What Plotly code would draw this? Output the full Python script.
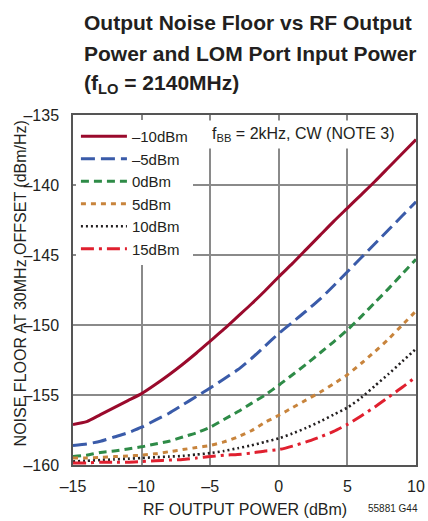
import plotly.graph_objects as go

# RF output power (dBm)
rf_out = list(range(-15, 11))

# Output noise floor at 30MHz offset (dBm/Hz), one series per LOM port input power
nf_m10 = [-157.1, -156.9, -156.4, -155.9, -155.4, -154.9, -154.25, -153.55, -152.8, -152.0,
          -151.15, -150.3, -149.4, -148.5, -147.55, -146.55, -145.6, -144.6, -143.6, -142.6,
          -141.65, -140.7, -139.75, -138.75, -137.75, -136.75]
nf_m5 = [-158.6, -158.5, -158.3, -158.0, -157.7, -157.3, -156.8, -156.3, -155.7, -155.1,
         -154.5, -153.85, -153.2, -152.4, -151.5, -150.6, -149.8, -149.0, -148.15, -147.2,
         -146.2, -145.2, -144.2, -143.2, -142.2, -141.2]
nf_0 = [-159.4, -159.3, -159.1, -159.0, -158.85, -158.7, -158.5, -158.3, -158.0, -157.7,
        -157.3, -156.75, -156.2, -155.6, -155.0, -154.3, -153.55, -152.8, -152.0, -151.2,
        -150.35, -149.4, -148.4, -147.4, -146.35, -145.3]
nf_5 = [-159.5, -159.5, -159.45, -159.4, -159.35, -159.3, -159.2, -159.05, -158.9, -158.75,
        -158.6, -158.35, -158.0, -157.55, -156.95, -156.45, -155.9, -155.35, -154.8, -154.2,
        -153.55, -152.75, -151.9, -151.0, -150.0, -149.0]
nf_10 = [-159.75, -159.7, -159.65, -159.6, -159.55, -159.5, -159.45, -159.4, -159.35, -159.25,
         -159.15, -159.0, -158.8, -158.6, -158.35, -158.1, -157.75, -157.35, -156.9, -156.4,
         -155.9, -155.2, -154.35, -153.5, -152.6, -151.7]
nf_15 = [-159.85, -159.85, -159.8, -159.8, -159.8, -159.75, -159.7, -159.65, -159.6, -159.5,
         -159.4, -159.3, -159.25, -159.15, -159.0, -158.9, -158.65, -158.35, -158.0, -157.6,
         -157.1, -156.5, -155.85, -155.15, -154.45, -153.7]

series_names = ["–10dBm", "–5dBm", "0dBm", "5dBm", "10dBm", "15dBm"]
series_values = [nf_m10, nf_m5, nf_0, nf_5, nf_10, nf_15]

x_tick_vals = [-15, -10, -5, 0, 5, 10]
x_tick_text = ["–15", "–10", "–5", "0", "5", "10"]
y_tick_vals = [-160, -155, -150, -145, -140, -135]
y_tick_text = ["–160", "–155", "–150", "–145", "–140", "–135"]

styles = [
    dict(color="#9a0a2c", width=3, dash="solid"),
    dict(color="#3a5ba9", width=3, dash="14px,6px"),
    dict(color="#2e8b47", width=3, dash="8px,5px"),
    dict(color="#c8843c", width=3, dash="5px,5px"),
    dict(color="#231f20", width=2.6, dash="2px,3px"),
    dict(color="#e0202f", width=3, dash="13px,5px,3px,5px"),
]

FONT = "Liberation Sans, Arial, Helvetica, sans-serif"
INK = "#231f20"

W, H = 428, 521
ML, MR, MT, MB = 73, 3, 115, 56
PW, PH = W - ML - MR, H - MT - MB


def px_x(px):
    return (px - ML) / PW


def px_y(py):
    return (H - MB - py) / PH


fig = go.Figure()
for name, vals, st in zip(series_names, series_values, styles):
    fig.add_trace(go.Scatter(x=rf_out, y=vals, mode="lines", name=name,
                             line=dict(shape="spline", smoothing=0.6, **st)))

grid = "#8a8a8a"
fig.update_xaxes(range=[-15, 10], tickvals=x_tick_vals, ticktext=x_tick_text,
                 showgrid=True, gridcolor=grid, gridwidth=1.5, zeroline=False,
                 showline=True, linecolor="#555555", linewidth=1.5, mirror=True,
                 ticks="", ticklabelstandoff=6, ticklabeloverflow="allow",
                 tickfont=dict(family=FONT, size=16, color=INK))
fig.update_yaxes(range=[-160, -135], tickvals=y_tick_vals, ticktext=y_tick_text,
                 showgrid=True, gridcolor=grid, gridwidth=1.5, zeroline=False,
                 showline=True, linecolor="#555555", linewidth=1.5, mirror=True,
                 ticks="", ticklabelstandoff=9, ticklabeloverflow="allow",
                 tickfont=dict(family=FONT, size=16, color=INK))

title_lines = ["Output Noise Floor vs RF Output",
               "Power and LOM Port Input Power",
               "(f<sub>LO</sub> = 2140MHz)"]
for i, line in enumerate(title_lines):
    fig.add_annotation(text=line, xref="paper", yref="paper",
                       x=px_x(82), y=px_y(23 + 30.5 * i), xanchor="left", yanchor="middle",
                       showarrow=False,
                       font=dict(family=FONT, size=21, color=INK, weight="bold"))

fig.add_annotation(text="f<sub>BB</sub> = 2kHz, CW (NOTE 3)", xref="x", yref="y",
                   x=1.8, y=-136.4, xanchor="center", yanchor="middle",
                   showarrow=False, bgcolor="white", borderpad=4,
                   font=dict(family=FONT, size=16, color=INK))

fig.add_annotation(text="NOISE FLOOR AT 30MHz OFFSET (dBm/Hz)", xref="paper", yref="paper",
                   x=px_x(19), y=px_y(283), xanchor="center", yanchor="middle",
                   textangle=-90, showarrow=False,
                   font=dict(family=FONT, size=16, color=INK))
fig.add_annotation(text="RF OUTPUT POWER (dBm)", xref="paper", yref="paper",
                   x=px_x(250), y=px_y(509), xanchor="center", yanchor="middle",
                   showarrow=False,
                   font=dict(family=FONT, size=16, color=INK))
fig.add_annotation(text="55881 G44", xref="paper", yref="paper",
                   x=px_x(401), y=px_y(508), xanchor="center", yanchor="middle",
                   showarrow=False,
                   font=dict(family=FONT, size=10, color=INK))

fig.update_layout(
    width=W, height=H,
    margin=dict(l=ML, r=MR, t=MT, b=MB),
    paper_bgcolor="white", plot_bgcolor="white",
    showlegend=True,
    legend=dict(x=px_x(76), y=px_y(120), xanchor="left", yanchor="top", bgcolor="white",
                borderwidth=0, itemwidth=46, tracegroupgap=0,
                font=dict(family=FONT, size=15, color=INK)),
)

fig.write_html("out.html")
